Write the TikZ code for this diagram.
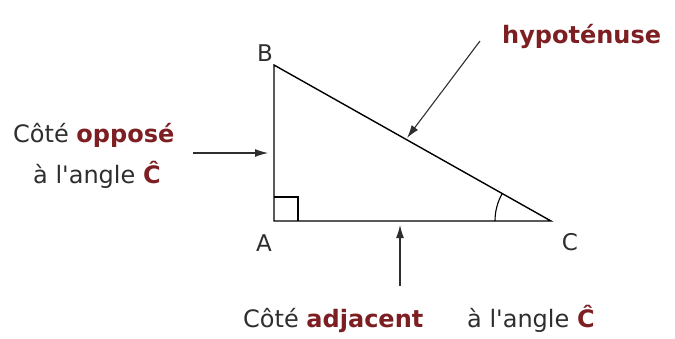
\documentclass[tikz,border=0pt]{standalone}
\usepackage{fontspec}
\setmainfont{DejaVu Sans}
\usetikzlibrary{positioning,arrows.meta}
\definecolor{ink}{HTML}{2E2E2E}
\definecolor{wine}{HTML}{7D1F22}
\newcommand{\hlt}[1]{\textcolor{wine}{\bfseries #1}}

\begin{document}
\begin{tikzpicture}[
  x=1pt, y=-1pt,
  font=\fontsize{24}{28}\selectfont,
  txt/.style   = {text=ink, inner sep=0pt, anchor=base west},
  vtx/.style   = {text=ink, inner sep=0pt, font=\fontsize{23}{27}\selectfont},
  side/.style  = {draw=black, line width=1.4pt, line join=miter},
  anglemark/.style = {draw=black, line width=1.1pt},
  arr/.style   = {-{Latex[length=13pt,width=8pt]}, draw=ink, line width=1.1pt},
]
\useasboundingbox (0,0) rectangle (675,338);

% ---------- triangle ----------
\coordinate (A) at (274,221);
\coordinate (B) at (274,65);
\coordinate (C) at (551,221);
\draw[side] (A) -- (B) -- (C) -- cycle;
\draw[anglemark] (A) ++(0,-24) -| ++(24,24);
\draw[anglemark] ([shift={(180:56)}]C) arc[start angle=180, end angle=209.4, radius=56];

\node[vtx] (lA) at (264,243) {A};
\node[vtx] (lB) at (265,53) {B};
\node[vtx] (lC) at (570,242) {C};

% ---------- labels ----------
\node[txt] (opp)  at (13,142)  {Côté \hlt{opposé}};
\node[txt] (oppC) at (33,183)  {à l\textquotesingle angle \hlt{Ĉ}};
\node[txt] (hyp)  at (502,43)  {\hlt{hypoténuse}};
\node[txt] (adj)  at (243,327) {Côté \hlt{adjacent}};
\node[txt] (adjC) at (467,327) {à l\textquotesingle angle \hlt{Ĉ}};

% ---------- arrows ----------
\coordinate (oppT) at (193,153);
\coordinate (oppH) at (268,153);
\coordinate (hypT) at (480,41);
\coordinate (hypH) at (407,138);
\coordinate (adjT) at (400,286);
\coordinate (adjH) at (400,225);
\draw[arr] (oppT) -- (oppH);
\draw[arr] (hypT) -- (hypH);
\draw[arr] (adjT) -- (adjH);

\end{tikzpicture}
\end{document}
